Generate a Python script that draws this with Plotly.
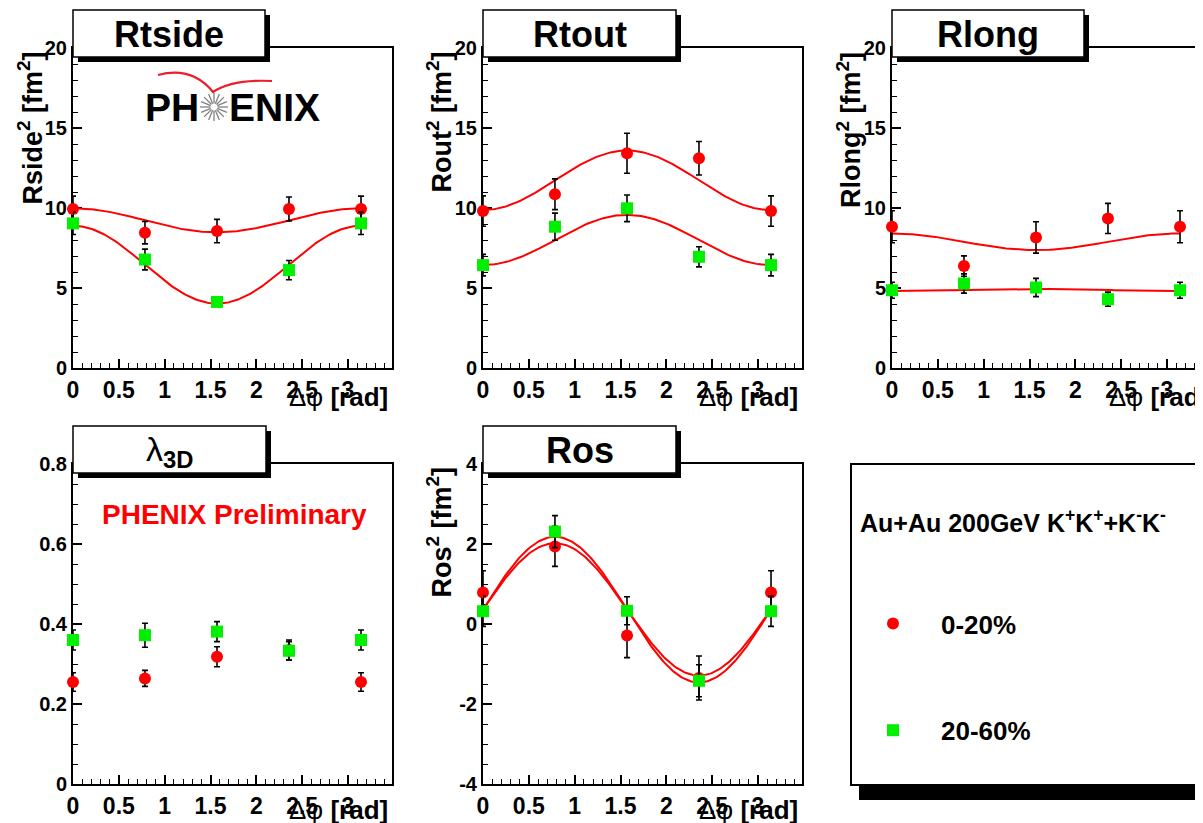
import numpy as np
import plotly.graph_objects as go

# ---------------- data ----------------
phi = [0.0, 0.785, 1.571, 2.356, 3.142]
cent_labels = ["0-20%", "20-60%"]

rside_c0 = [9.94, 8.46, 8.56, 9.94, 9.94]
rside_c0_err = [0.8, 0.7, 0.73, 0.75, 0.8]
rside_c1 = [9.04, 6.78, 4.13, 6.12, 9.04]
rside_c1_err = [0.7, 0.65, 0.2, 0.6, 0.7]

rout_c0 = [9.81, 10.86, 13.42, 13.11, 9.81]
rout_c0_err = [0.95, 0.96, 1.25, 1.05, 0.95]
rout_c1 = [6.43, 8.83, 9.98, 6.95, 6.43]
rout_c1_err = [0.67, 0.85, 0.83, 0.63, 0.67]

rlong_c0 = [8.83, 6.37, 8.16, 9.35, 8.83]
rlong_c0_err = [1.0, 0.64, 0.98, 0.94, 1.0]
rlong_c1 = [4.86, 5.28, 5.03, 4.30, 4.86]
rlong_c1_err = [0.5, 0.6, 0.57, 0.44, 0.5]

lam_c0 = [0.255, 0.264, 0.318, 0.335, 0.255]
lam_c0_err = [0.023, 0.02, 0.025, 0.025, 0.023]
lam_c1 = [0.36, 0.372, 0.381, 0.333, 0.36]
lam_c1_err = [0.025, 0.03, 0.025, 0.023, 0.025]

ros_c0 = [0.79, 1.94, -0.29, -1.35, 0.79]
ros_c0_err = [0.54, 0.5, 0.55, 0.55, 0.54]
ros_c1 = [0.32, 2.31, 0.33, -1.42, 0.32]
ros_c1_err = [0.38, 0.4, 0.35, 0.4, 0.38]

# fit parameters: R^2 = const + amp*cos(2 phi) ; Ros^2 = const + amp*sin(2 phi)
fit_rside_const = [9.23, 6.46]
fit_rside_amp = [0.75, 2.43]
fit_rout_const = [11.73, 8.0]
fit_rout_amp = [-1.86, -1.57]
fit_rlong_const = [7.89, 4.875]
fit_rlong_amp = [0.52, -0.07]
fit_ros_const = [0.365, 0.36]
fit_ros_amp = [1.655, 1.82]

# ---------------- layout helpers ----------------
OFF = 8  # page body margin of the html page
W, H = 1203 - OFF, 823 - OFF
FONT = "Liberation Sans, Arial, Helvetica, sans-serif"
RED = "#ff0000"
GREEN = "#00f000"


def px(x):
    return (x - OFF) / W


def py(y):
    return 1 - (y - OFF) / H


fig = go.Figure()

panels = [
    # (xdom px, ydom px, xrange, yrange, ydtick, yminor)
    ((73, 392), (48, 368), [0, 3.48], [0, 20], 5, 1),
    ((483, 802), (48, 368), [0, 3.48], [0, 20], 5, 1),
    ((892, 1203), (48, 368), [0, 3.48 * (1203 - 892) / 319], [0, 20], 5, 1),
    ((73, 392), (464, 784), [0, 3.48], [0, 0.8], 0.2, 0.05),
    ((483, 802), (464, 784), [0, 3.48], [-4, 4], 2, 0.5),
]

tickfont_x = dict(family=FONT, size=23, color="black", weight="bold")
tickfont_y = dict(family=FONT, size=20, color="black", weight="bold")

for i, (xd, yd, xr, yr, ydt, ymn) in enumerate(panels):
    n = "" if i == 0 else str(i + 1)
    xa = dict(
        domain=[max(px(xd[0]), 0), min(px(xd[1]), 1)], range=xr, anchor="y" + n,
        showline=True, linewidth=2, linecolor="black", mirror=True,
        ticks="inside", ticklen=9, tickwidth=1.5, tickcolor="black",
        tick0=0, dtick=0.5,
        minor=dict(dtick=0.1, ticks="inside", ticklen=5, tickwidth=1, tickcolor="black"),
        tickfont=tickfont_x, showgrid=False, zeroline=False,
        layer="below traces", fixedrange=True, automargin=False,
    )
    ya = dict(
        domain=[py(yd[1]), py(yd[0])], range=yr, anchor="x" + n,
        showline=True, linewidth=2, linecolor="black", mirror=(i != 2),
        ticks="inside", ticklen=9, tickwidth=1.5, tickcolor="black",
        tick0=0, dtick=ydt,
        minor=dict(dtick=ymn, ticks="inside", ticklen=5, tickwidth=1, tickcolor="black"),
        tickfont=tickfont_y, showgrid=False, zeroline=False,
        layer="below traces", fixedrange=True, automargin=False,
    )
    if i == 4:
        ya["tickvals"] = [-4, -2, 0, 2, 4]
        ya["ticktext"] = ["-4", "-2", "0", "2", "4"]
    fig.layout["xaxis" + n] = xa
    fig.layout["yaxis" + n] = ya

series = [
    (rside_c0, rside_c0_err, rside_c1, rside_c1_err),
    (rout_c0, rout_c0_err, rout_c1, rout_c1_err),
    (rlong_c0, rlong_c0_err, rlong_c1, rlong_c1_err),
    (lam_c0, lam_c0_err, lam_c1, lam_c1_err),
    (ros_c0, ros_c0_err, ros_c1, ros_c1_err),
]
fits = [
    (fit_rside_const, fit_rside_amp, "cos"),
    (fit_rout_const, fit_rout_amp, "cos"),
    (fit_rlong_const, fit_rlong_amp, "cos"),
    None,
    (fit_ros_const, fit_ros_amp, "sin"),
]

phi_fine = np.linspace(phi[0], phi[-1], 200)

for i, (c0, e0, c1, e1) in enumerate(series):
    n = "" if i == 0 else str(i + 1)
    xref, yref = "x" + n, "y" + n
    if fits[i] is not None:
        consts, amps, kind = fits[i]
        for c, a in zip(consts, amps):
            f = np.cos(2 * phi_fine) if kind == "cos" else np.sin(2 * phi_fine)
            fig.add_trace(go.Scatter(
                x=phi_fine, y=c + a * f, mode="lines",
                line=dict(color=RED, width=2), xaxis=xref, yaxis=yref,
                showlegend=False, hoverinfo="skip", cliponaxis=False,
            ))
    for k, (vals, errs, sym, col) in enumerate([
        (c0, e0, "circle", RED), (c1, e1, "square", GREEN)
    ]):
        fig.add_trace(go.Scatter(
            x=phi, y=vals, mode="markers",
            marker=dict(symbol=sym, size=12, color=col, line=dict(width=0)),
            error_y=dict(type="data", array=errs, visible=True, color="black",
                         thickness=1.6, width=3),
            xaxis=xref, yaxis=yref, cliponaxis=False,
            name=cent_labels[k], legendgroup=cent_labels[k],
            showlegend=(i == 0),
        ))

shapes = []
annotations = []


def rect(x0, y0, x1, y1, fill, lw=0, lc="black"):
    shapes.append(dict(
        type="rect", xref="paper", yref="paper",
        x0=px(x0), x1=px(x1), y0=py(y1), y1=py(y0),
        fillcolor=fill, line=dict(width=lw, color=lc), layer="above",
    ))


def text(x, y, s, size, xanchor="center", yanchor="middle", color="black",
         weight="bold", angle=0, family=FONT):
    annotations.append(dict(
        xref="paper", yref="paper", x=px(x), y=py(y), text=s, showarrow=False,
        xanchor=xanchor, yanchor=yanchor, textangle=angle,
        font=dict(family=family, size=size, color=color, weight=weight),
    ))


title_boxes = [
    ((73, 265), (10, 57), "Rtside"),
    ((483, 676), (10, 57), "Rtout"),
    ((892, 1084), (10, 57), "Rlong"),
    ((73, 266), (426, 473), "λ"),
    ((483, 676), (426, 473), "Ros"),
]
for (bx0, bx1), (by0, by1), lab in title_boxes:
    rect(bx0 + 5, by0 + 5, bx1 + 5, by1 + 5, "black")
    rect(bx0, by0, bx1, by1, "white", 1.5)
    if lab == "λ":
        text((bx0 + bx1) / 2, (by0 + by1) / 2 + 2, "λ<sub><b>3D</b></sub>", 34, weight="normal")
    else:
        text((bx0 + bx1) / 2, (by0 + by1) / 2 + 1, lab, 36)

ytitles = [
    (30, 50, "Rside<sup>2</sup> [fm<sup>2</sup>]"),
    (439, 50, "Rout<sup>2</sup> [fm<sup>2</sup>]"),
    (849, 50, "Rlong<sup>2</sup> [fm<sup>2</sup>]"),
    (439, 465, "Ros<sup>2</sup> [fm<sup>2</sup>]"),
]
for x, y, s in ytitles:
    text(x, y, s, 27, xanchor="center", yanchor="top", angle=-90)

xtitles = [(390, 397), (800, 397), (1210, 397), (390, 810), (800, 810)]
for x, y in xtitles:
    text(x, y, "Δφ <b>[rad]</b>", 26, xanchor="right", yanchor="middle", weight="normal")

# PHENIX logo
text(201, 108, "PH", 39, xanchor="right")
text(227, 108, "ENIX", 39, xanchor="left")
cx, cy, r_out, r_in = 214, 107, 14, 3.5
for k in range(16):
    a = k * np.pi / 8
    shapes.append(dict(
        type="line", xref="paper", yref="paper",
        x0=px(cx + r_in * np.cos(a)), y0=py(cy + r_in * np.sin(a)),
        x1=px(cx + r_out * np.cos(a)), y1=py(cy + r_out * np.sin(a)),
        line=dict(color="#808080", width=1.3), layer="above",
    ))
swoosh = "M {} {} Q {} {} {} {} Q {} {} {} {}".format(
    px(158), py(75), px(192), py(66), px(213), py(92),
    px(232), py(79), px(272), py(81))
shapes.append(dict(type="path", xref="paper", yref="paper", path=swoosh,
                   line=dict(color="#e8202a", width=2.2), layer="above"))

text(100, 515, "PHENIX Preliminary", 28, xanchor="left", color=RED)

# legend box
rect(859, 471, 1210, 800, "black")
rect(851, 464, 1197, 785, "white", 2)
text(858, 521, "Au+Au 200GeV K<sup>+</sup>K<sup>+</sup>+K<sup>-</sup>K<sup>-</sup>", 25, xanchor="left")

fig.update_layout(
    width=W, height=H, autosize=False,
    margin=dict(l=0, r=0, t=0, b=0, pad=0, autoexpand=False),
    paper_bgcolor="white", plot_bgcolor="white",
    shapes=shapes, annotations=annotations,
    showlegend=True,
    legend=dict(
        x=px(845), y=py(600), xanchor="left", yanchor="top",
        bgcolor="rgba(0,0,0,0)", borderwidth=0,
        font=dict(family=FONT, size=26, color="black", weight="bold"),
        tracegroupgap=70, itemwidth=86,
    ),
)

fig.write_html("out.html")
